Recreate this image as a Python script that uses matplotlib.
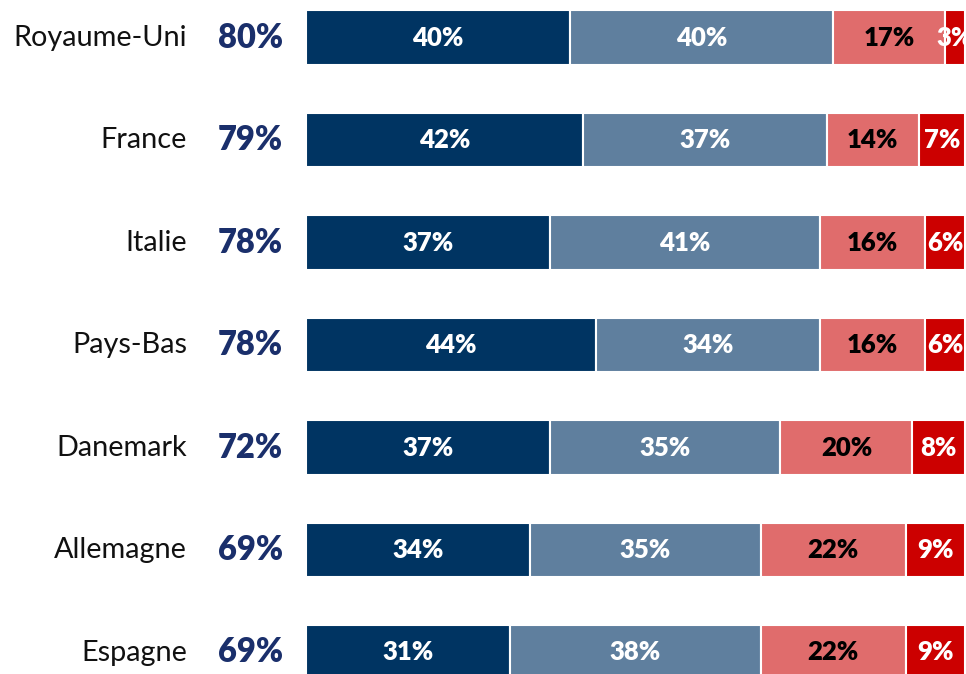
import matplotlib
matplotlib.use("Agg")
import matplotlib.pyplot as plt
import matplotlib.transforms as mtransforms

countries = ["Royaume-Uni", "France", "Italie", "Pays-Bas", "Danemark", "Allemagne", "Espagne"]
totals = [80, 79, 78, 78, 72, 69, 69]
tout_a_fait = [40, 42, 37, 44, 37, 34, 31]
plutot = [40, 37, 41, 34, 35, 35, 38]
plutot_pas = [17, 14, 16, 16, 20, 22, 22]
pas_du_tout = [3, 7, 6, 6, 8, 9, 9]

series = [tout_a_fait, plutot, plutot_pas, pas_du_tout]
colors = ["#003462", "#5F7F9E", "#E06C6C", "#CC0000"]
text_colors = ["white", "white", "black", "white"]

plt.rcParams['font.family'] = ['Lato', 'DejaVu Sans']

W, H = 966, 674
fig = plt.figure(figsize=(W / 100, H / 100), dpi=100)
ax = fig.add_axes([306 / W, 0, (965 - 306) / W, 1])
ax.set_xlim(0, 100)
top_c, step = 37.5, 102.5
ax.set_ylim((H - top_c) / step, -top_c / step)
ax.axis("off")

ypos = list(range(len(countries)))
left = [0] * len(countries)
for s, col, tc in zip(series, colors, text_colors):
    ax.barh(ypos, s, left=left, height=0.53, color=col, edgecolor="white", linewidth=1.5)
    for y, v, l in zip(ypos, s, left):
        ax.text(l + v / 2, y, f"{v}%", ha="center", va="center", color=tc,
                fontsize=18.5, fontweight="heavy", clip_on=False)
    left = [a + b for a, b in zip(left, s)]

trans = mtransforms.blended_transform_factory(fig.transFigure, ax.transData)
for y, c, t in zip(ypos, countries, totals):
    ax.text(187 / W, y, c, transform=trans, ha="right", va="center",
            fontsize=20.8, color="#111111")
    ax.text(283 / W, y, f"{t}%", transform=trans, ha="right", va="center",
            fontsize=23.5, fontweight="heavy", color="#1A2F6B")

fig.savefig("out.png", dpi=100)
